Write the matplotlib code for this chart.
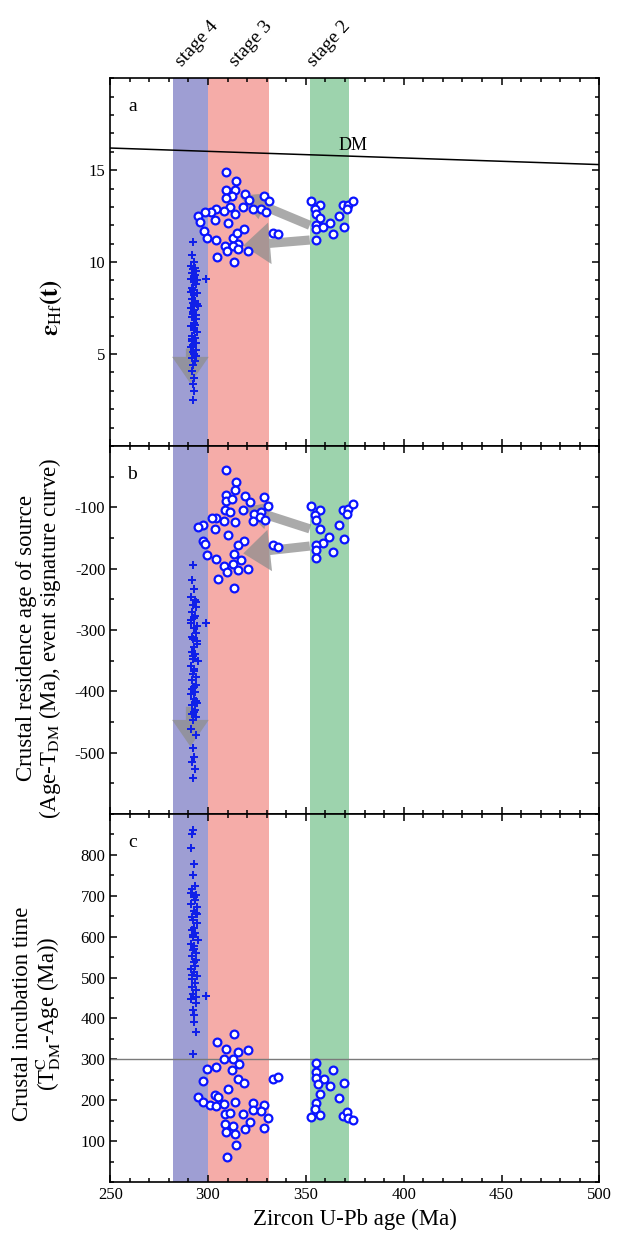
import numpy as np
import matplotlib
matplotlib.use('Agg')
import matplotlib.pyplot as plt
from matplotlib.ticker import MultipleLocator, FixedLocator

plt.rcParams['font.family'] = ['Liberation Serif', 'DejaVu Serif']
plt.rcParams['mathtext.fontset'] = 'stix'
plt.rcParams['axes.unicode_minus'] = False

# stage bands (Ma)
stage_names = ['stage 4', 'stage 3', 'stage 2']
stage_lo = [282, 300, 352]
stage_hi = [300, 331, 372]
stage_cols = ['#9e9ed3', '#f5aca8', '#9dd3ad']

# DM line in panel a (age, eHf)
dm_age = [250, 500]
dm_eps = [16.2, 15.3]

# ---- panel a : eHf(t)
a_age_open = [309.2, 314.3, 309.2, 313.9, 312.2, 309.0, 319.1, 320.8, 328.5, 331.0,
              317.7, 323.0, 327.0, 329.4, 311.0, 308.0, 314.0, 304.0, 301.5, 298.5,
              295.0, 296.0, 303.6, 310.0, 297.7, 299.7, 304.0, 308.7, 312.6, 315.0,
              318.6, 315.5, 312.6, 309.9, 315.5, 320.2, 304.8, 313.3, 333.3, 335.5,
              352.4, 357.1, 354.5, 355.4, 357.1, 355.0, 355.4, 355.4, 358.8, 362.2,
              363.9, 367.0, 369.5, 369.2, 371.7, 373.9, 370.8]
a_eps_open = [14.9, 14.4, 13.9, 13.9, 13.6, 13.5, 13.7, 13.4, 13.6, 13.3,
              13.0, 12.9, 12.9, 12.7, 13.0, 12.8, 12.6, 12.9, 12.7, 12.7,
              12.5, 12.2, 12.3, 12.1, 11.7, 11.3, 11.2, 10.9, 11.3, 11.6,
              11.8, 11.0, 10.9, 10.6, 10.7, 10.6, 10.3, 10.0, 11.6, 11.5,
              13.3, 13.1, 12.9, 12.6, 12.4, 12.0, 11.8, 11.2, 11.9, 12.1,
              11.5, 12.5, 11.9, 13.1, 13.1, 13.3, 12.9]
a_age_fill = [292.5, 292.0, 292.8, 291.5, 293.2, 292.1, 294.0, 291.8, 293.5, 292.6,
              291.2, 294.5, 292.9, 293.8, 291.6, 292.3, 294.2, 292.7, 291.9, 293.4,
              292.2, 294.8, 291.4, 293.0, 292.4, 293.7, 291.7, 294.1, 292.8, 293.3,
              291.3, 292.6, 294.4, 292.0, 293.1, 291.8, 293.9, 292.5, 291.5, 293.6,
              292.3, 292.9, 291.9, 293.2, 292.4, 291.6, 292.7, 292.2, 292.8, 298.8,
              292.5, 293.6, 291.4, 294.3, 292.1, 293.0, 291.7, 293.8]
a_eps_fill = [11.1, 10.4, 10.0, 9.8, 9.7, 9.6, 9.5, 9.4, 9.3, 9.2,
              9.1, 9.0, 8.9, 8.8, 8.6, 8.5, 8.3, 8.2, 8.0, 7.9,
              7.8, 7.6, 7.5, 7.4, 7.2, 7.1, 7.0, 6.9, 6.7, 6.6,
              6.5, 6.3, 6.2, 6.0, 5.9, 5.8, 5.6, 5.5, 5.4, 5.2,
              5.1, 5.0, 4.8, 4.6, 4.4, 4.1, 3.7, 3.4, 3.0, 9.1,
              2.5, 9.0, 8.4, 7.7, 7.3, 6.4, 5.7, 4.9]

# ---- panel b : Age - TDM
b_age_open = [309.2, 314.3, 309.2, 313.9, 319.0, 309.2, 312.2, 321.2, 328.8, 330.6,
              308.7, 311.2, 317.7, 323.5, 327.0, 326.5, 329.0, 322.8, 313.9, 307.9,
              304.2, 302.0, 303.6, 297.6, 295.0, 310.1, 297.6, 298.5, 318.4, 315.1,
              299.7, 304.2, 313.2, 316.6, 308.3, 312.6, 309.5, 315.5, 320.2, 305.0,
              313.3, 333.3, 335.5,
              352.4, 357.4, 354.5, 355.4, 357.1, 367.0, 361.9, 358.8, 355.4, 355.4,
              355.4, 363.9, 369.5, 369.2, 371.7, 373.9, 370.8]
b_val_open = [-39, -58, -79, -71, -81, -90, -87, -92, -83, -97,
              -104, -107, -105, -110, -107, -115, -120, -122, -124, -122,
              -118, -117, -135, -128, -132, -145, -154, -159, -154, -162,
              -178, -184, -176, -185, -195, -193, -205, -202, -200, -216,
              -231, -162, -165,
              -98, -105, -113, -121, -136, -128, -149, -158, -162, -170,
              -183, -172, -152, -104, -102, -95, -110]
b_age_fill = [292.5, 292.0, 292.8, 291.5, 293.2, 292.1, 294.0, 291.8, 293.5, 292.6,
              291.2, 294.5, 292.9, 293.8, 291.6, 292.3, 294.2, 292.7, 291.9, 293.4,
              292.2, 294.8, 291.4, 293.0, 292.4, 293.7, 291.7, 294.1, 292.8, 293.3,
              291.3, 292.6, 294.4, 292.0, 293.1, 291.8, 293.9, 292.5, 291.5, 293.6,
              292.3, 292.9, 291.9, 293.2, 292.4, 298.8,
              293.6, 291.4, 294.3, 292.1, 293.0, 291.7, 293.8, 292.6]
b_val_fill = [-194, -218, -233, -246, -251, -259, -263, -271, -277, -280,
              -288, -293, -297, -305, -311, -314, -323, -327, -335, -339,
              -347, -351, -359, -363, -371, -377, -381, -389, -393, -401,
              -405, -413, -419, -423, -431, -437, -441, -447, -461, -471,
              -493, -507, -515, -526, -541, -289,
              -255, -284, -318, -343, -367, -396, -416, -434]

# ---- panel c : TDMc - Age
c_age_open = [313.3, 304.8, 309.2, 315.5, 320.2, 308.2, 312.6, 316.0, 299.7, 304.2,
              312.4, 297.6, 315.5, 318.4, 310.1, 295.0, 303.6, 305.3, 297.6, 301.0,
              304.2, 307.9, 313.9, 322.8, 328.8, 323.2, 327.0, 308.7, 311.2, 317.7,
              330.6, 321.2, 308.7, 312.6, 309.2, 313.9, 319.0, 328.8, 314.3, 309.5,
              333.3, 335.8,
              355.4, 363.9, 355.0, 355.4, 359.3, 362.2, 369.5, 356.3, 357.1, 367.0,
              355.4, 354.5, 357.4, 352.4, 369.2, 370.8, 371.7, 373.9]
c_val_open = [363, 342, 326, 318, 322, 301, 300, 289, 277, 281,
              273, 248, 253, 243, 228, 209, 213, 208, 196, 188,
              186, 190, 196, 192, 188, 175, 174, 166, 168, 166,
              156, 147, 141, 137, 123, 118, 129, 133, 91, 60,
              253, 257,
              292, 275, 270, 255, 251, 235, 241, 239, 216, 205,
              194, 178, 164, 159, 162, 170, 156, 151]
c_age_fill = [292.5, 292.0, 291.5, 292.8, 292.1, 293.2, 291.8, 294.0, 292.6, 293.5,
              291.2, 294.5, 292.9, 293.8, 291.6, 292.3, 294.2, 292.7, 291.9, 293.4,
              292.2, 294.8, 291.4, 293.0, 292.4, 293.7, 291.7, 294.1, 292.8, 293.3,
              291.3, 292.6, 294.4, 292.0, 293.1, 291.8, 293.9, 292.5, 291.5, 293.6,
              292.3, 292.9, 292.6, 292.5, 298.8,
              293.6, 291.4, 294.3, 292.1, 293.0, 291.7, 293.8]
c_val_fill = [861, 851, 816, 777, 751, 724, 716, 703, 697, 689,
              681, 672, 664, 659, 648, 641, 634, 622, 617, 609,
              598, 592, 583, 576, 567, 561, 553, 544, 537, 528,
              521, 513, 503, 496, 487, 478, 469, 461, 448, 437,
              421, 409, 391, 314, 456,
              367, 708, 655, 603, 571, 507, 452]

# gray arrows (tail, tip, head width) per panel
arrows_a = [((352, 12.0), (316, 13.6), 1.7), ((352, 11.2), (318, 10.9), 2.5), ((291, 5.3), (291, 3.4), 2.2)]
arrows_b = [((352, -135), (318, -100), 1.7), ((352, -163), (318, -175), 2.5), ((291, -425), (291, -490), 2.2)]

fig = plt.figure(figsize=(6.37, 12.36), dpi=100)
left, width, h, bot = 0.173, 0.768, 0.2977, 0.0437
ax_a = fig.add_axes([left, bot + 2 * h, width, h])
ax_b = fig.add_axes([left, bot + h, width, h])
ax_c = fig.add_axes([left, bot, width, h])

open_kw = dict(ls='none', marker='o', ms=5.6, mfc='white', mec='#0a14ff', mew=1.6, zorder=5)
fill_kw = dict(ls='none', marker='P', ms=6, color='#1020e8', mew=0, zorder=4)


def style(ax, ylim, minor, labeled):
    for lo, hi, col in zip(stage_lo, stage_hi, stage_cols):
        ax.axvspan(lo, hi, color=col, lw=0, zorder=0)
    ax.set_xlim(250, 500)
    ax.set_ylim(*ylim)
    ax.xaxis.set_major_locator(MultipleLocator(50))
    ax.xaxis.set_minor_locator(MultipleLocator(10))
    ax.yaxis.set_major_locator(FixedLocator(labeled))
    ax.yaxis.set_minor_locator(MultipleLocator(minor))
    ax.tick_params(which='both', direction='in', top=True, right=True, labelsize=12, width=1.1)
    ax.tick_params(which='major', length=5)
    ax.tick_params(which='minor', length=3)
    for s in ax.spines.values():
        s.set_linewidth(1.2)


def draw_arrows(ax, arrows):
    for tail, tip, hw in arrows:
        ax.annotate('', xy=tip, xytext=tail, zorder=3,
                    arrowprops=dict(arrowstyle='simple,head_width=%s,head_length=1.6,tail_width=0.55' % hw,
                                    color='#8e8e8e', alpha=0.75, lw=0, mutation_scale=12,
                                    shrinkA=0, shrinkB=0))


# panel a
style(ax_a, (0, 20), 1, [5, 10, 15])
ax_a.plot(dm_age, dm_eps, color='black', lw=1.1, zorder=2)
ax_a.text(374, 15.85, 'DM', fontsize=13, ha='center', va='bottom')
draw_arrows(ax_a, arrows_a)
ax_a.plot(a_age_fill, a_eps_fill, **fill_kw)
ax_a.plot(a_age_open, a_eps_open, **open_kw)
ax_a.set_ylabel(r'$\mathbf{\varepsilon}_{\mathrm{Hf}}\mathbf{(t)}$', fontsize=18)
ax_a.yaxis.set_label_coords(-0.095, 0.377)
ax_a.text(0.045, 0.945, 'a', transform=ax_a.transAxes, fontsize=14, va='top', ha='center')
ax_a.tick_params(labelbottom=False)
for name, lo in zip(stage_names, [288, 316, 355.5]):
    ax_a.text(lo, 20.45, name, rotation=48, rotation_mode='anchor', ha='left', va='bottom',
              fontsize=14, clip_on=False)

# panel b
style(ax_b, (-600, 0), 50, [-500, -400, -300, -200, -100])
draw_arrows(ax_b, arrows_b)
ax_b.plot(b_age_fill, b_val_fill, **fill_kw)
ax_b.plot(b_age_open, b_val_open, **open_kw)
ax_b.set_ylabel('Crustal residence age of source\n' + r'(Age-T$_{\rm DM}$ (Ma), event signature curve)',
                fontsize=16.5, linespacing=1.0)
ax_b.yaxis.set_label_coords(-0.097, 0.478)
ax_b.text(0.045, 0.945, 'b', transform=ax_b.transAxes, fontsize=14, va='top', ha='center')
ax_b.tick_params(labelbottom=False)

# panel c
style(ax_c, (0, 900), 50, [100, 200, 300, 400, 500, 600, 700, 800])
ax_c.axhline(300, color='#7a7a7a', lw=1.0, zorder=2)
ax_c.plot(c_age_fill, c_val_fill, **fill_kw)
ax_c.plot(c_age_open, c_val_open, **open_kw)
ax_c.set_ylabel('Crustal incubation time\n' + r'(T$_{\rm DM}^{\rm C}$-Age (Ma))', fontsize=16.5, linespacing=1.0)
ax_c.yaxis.set_label_coords(-0.097, 0.458)
ax_c.text(0.045, 0.945, 'c', transform=ax_c.transAxes, fontsize=14, va='top', ha='center')
ax_c.set_xlabel('Zircon U-Pb age (Ma)', fontsize=16.5, labelpad=4)

fig.savefig('out.png', dpi=100)
